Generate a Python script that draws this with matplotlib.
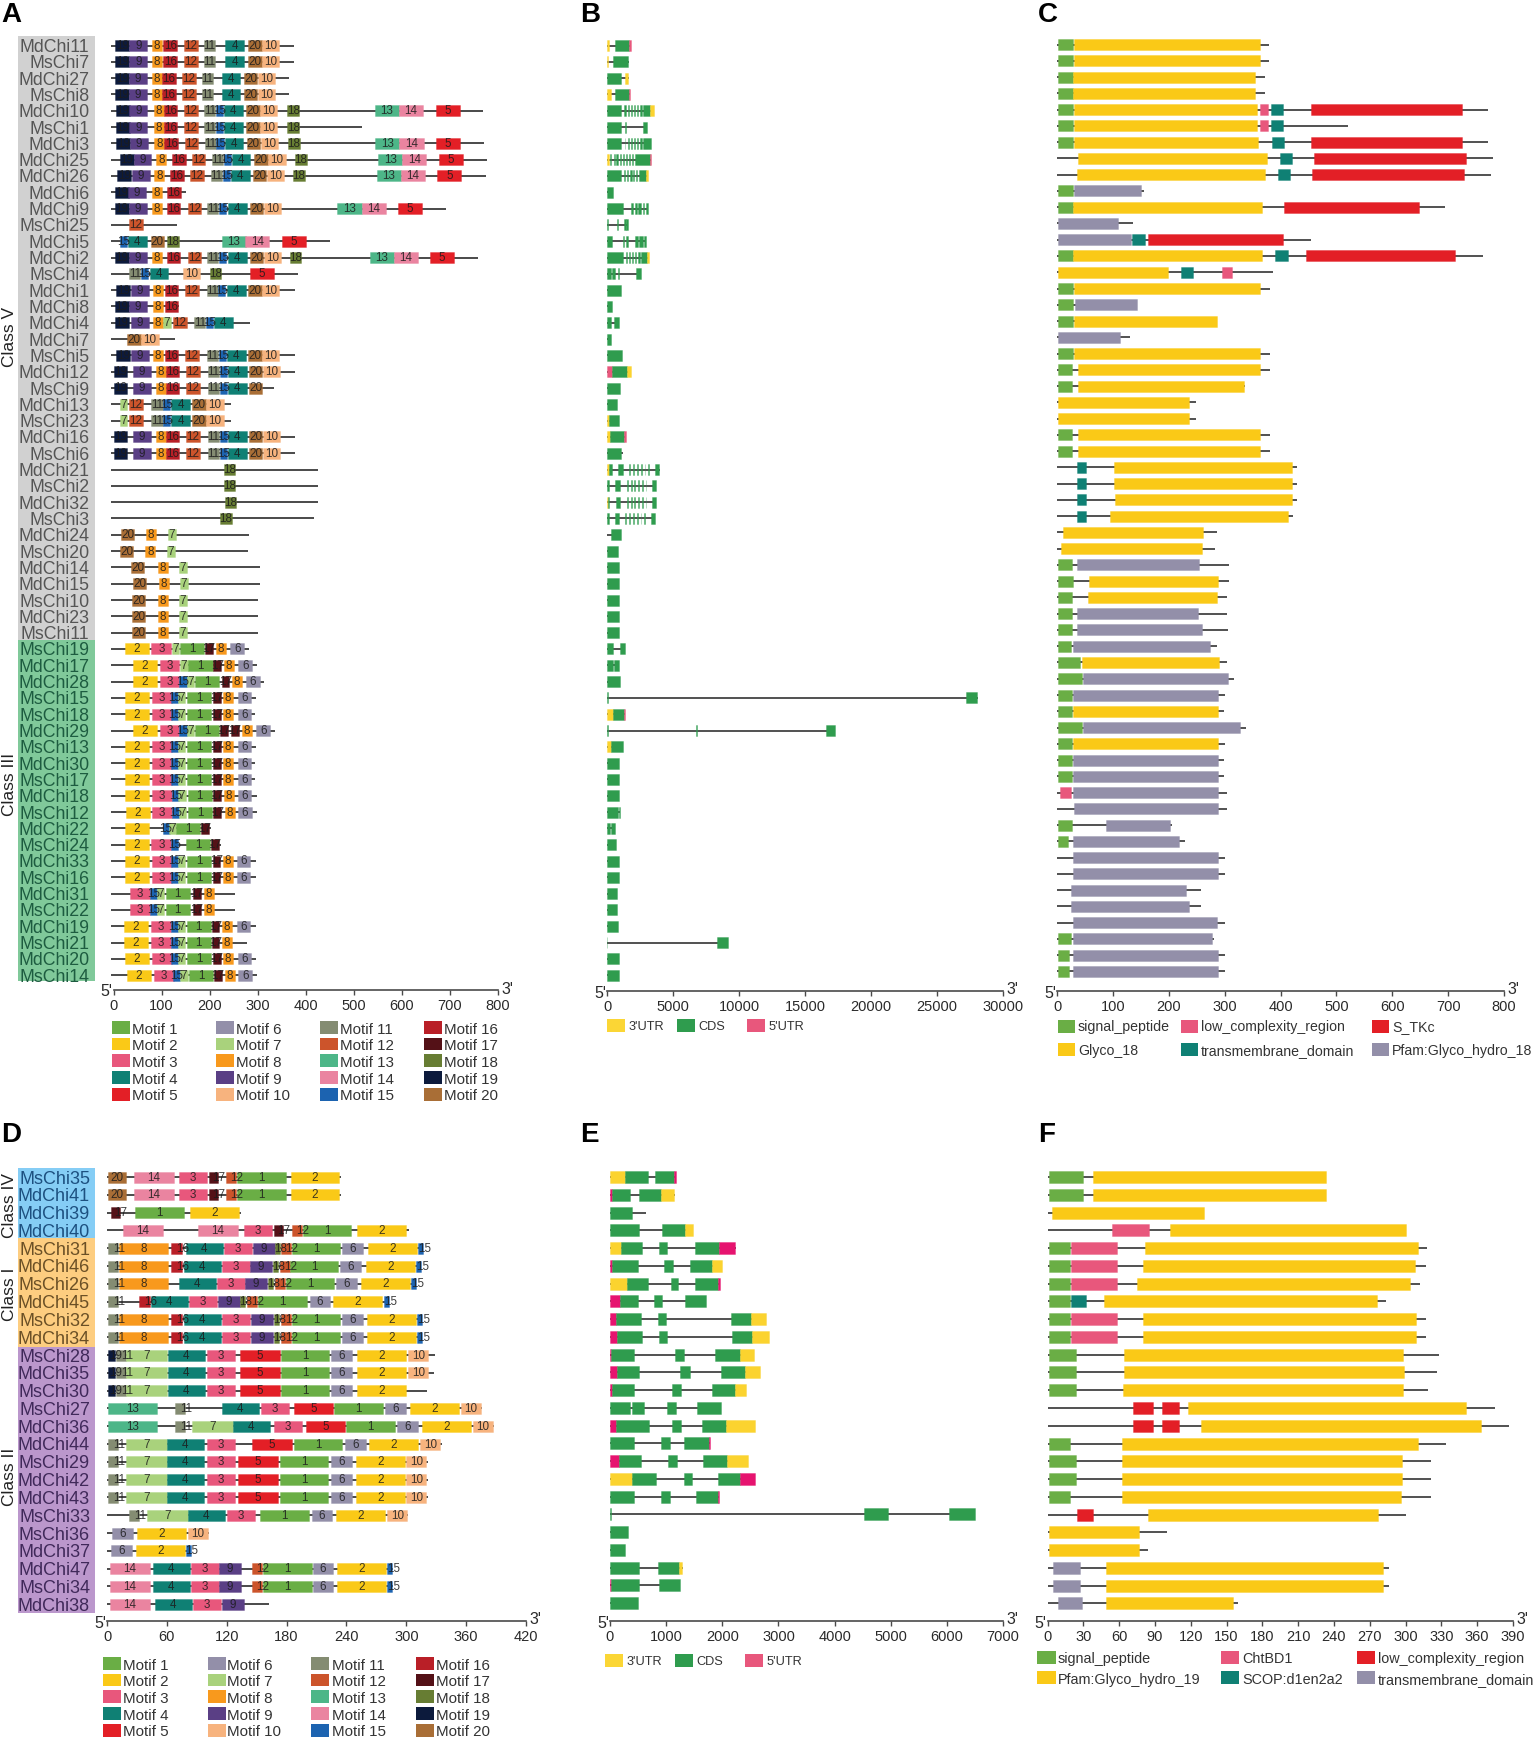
import matplotlib
matplotlib.use("Agg")
import matplotlib.pyplot as plt
from matplotlib.patches import Rectangle
from matplotlib.colors import to_rgba

plt.rcParams["font.family"] = ["Liberation Sans", "DejaVu Sans"]

W, H = 1536, 1737

# ---- panel A / B / C rows ----
genes_a = ["MdChi11", "MsChi7", "MdChi27", "MsChi8", "MdChi10", "MsChi1", "MdChi3", "MdChi25", "MdChi26",
           "MdChi6", "MdChi9", "MsChi25", "MdChi5", "MdChi2", "MsChi4", "MdChi1", "MdChi8", "MdChi4", "MdChi7",
           "MsChi5", "MdChi12", "MsChi9", "MdChi13", "MsChi23", "MdChi16", "MsChi6", "MdChi21", "MsChi2",
           "MdChi32", "MsChi3", "MdChi24", "MsChi20", "MdChi14", "MdChi15", "MsChi10", "MdChi23", "MsChi11",
           "MsChi19", "MdChi17", "MdChi28", "MsChi15", "MsChi18", "MdChi29", "MsChi13", "MdChi30", "MsChi17",
           "MdChi18", "MsChi12", "MdChi22", "MsChi24", "MdChi33", "MsChi16", "MdChi31", "MsChi22", "MdChi19",
           "MsChi21", "MdChi20", "MsChi14"]

# protein length in aa, panel A
ends_a = [375, 375, 366, 366, 769, 517, 770, 777, 774, 150, 692, 132, 450, 759, 383, 378, 137, 283, 127,
          378, 377, 333, 244, 244, 377, 377, 425, 425, 426, 418, 281, 279, 304, 304, 301, 301, 301,
          281, 298, 314, 297, 295, 336, 297, 295, 295, 298, 299, 202, 224, 297, 297, 253, 253, 297, 278, 297, 298]

# (motif, start) per gene, panel A
motifs_a = [
    [(19, 4), (9, 33), (8, 80), (16, 104), (12, 147), (11, 188), (4, 233), (20, 280), (10, 309)],
    [(19, 4), (9, 33), (8, 80), (16, 104), (12, 147), (11, 188), (4, 233), (20, 280), (10, 309)],
    [(19, 4), (9, 32), (8, 80), (16, 101), (12, 143), (11, 184), (4, 225), (20, 271), (10, 300)],
    [(19, 4), (9, 32), (8, 80), (16, 101), (12, 143), (11, 184), (4, 225), (20, 271), (10, 300)],
    [(19, 5), (9, 33), (8, 84), (16, 105), (12, 147), (11, 189), (15, 213), (4, 230), (20, 276), (10, 305), (18, 362), (13, 544), (14, 594), (5, 670)],
    [(19, 5), (9, 33), (8, 84), (16, 105), (12, 147), (11, 189), (15, 213), (4, 230), (20, 276), (10, 305), (18, 362)],
    [(19, 6), (9, 34), (8, 85), (16, 106), (12, 148), (11, 190), (15, 214), (4, 231), (20, 277), (10, 306), (18, 363), (13, 545), (14, 595), (5, 671)],
    [(19, 13), (9, 42), (8, 89), (16, 122), (12, 163), (11, 204), (15, 229), (4, 246), (20, 293), (10, 322), (18, 378), (13, 551), (14, 601), (5, 677)],
    [(19, 8), (9, 38), (8, 85), (16, 118), (12, 160), (11, 202), (15, 227), (4, 244), (20, 290), (10, 319), (18, 374), (13, 548), (14, 598), (5, 674)],
    [(19, 3), (9, 30), (8, 80), (16, 112)],
    [(19, 3), (9, 32), (8, 80), (16, 111), (12, 154), (11, 195), (15, 220), (4, 238), (20, 284), (10, 313), (13, 466), (14, 516), (5, 592)],
    [(12, 33)],
    [(15, 14), (4, 30), (20, 77), (18, 112), (13, 225), (14, 274), (5, 350)],
    [(19, 3), (9, 32), (8, 80), (16, 111), (12, 154), (11, 195), (15, 220), (4, 238), (20, 284), (10, 313), (18, 367), (13, 533), (14, 583), (5, 658)],
    [(11, 33), (15, 57), (4, 75), (10, 145), (18, 200), (5, 283)],
    [(19, 6), (9, 36), (8, 82), (16, 107), (12, 149), (11, 194), (15, 218), (4, 236), (20, 280), (10, 308)],
    [(19, 3), (9, 32), (8, 82), (16, 107)],
    [(19, 3), (9, 36), (8, 82), (7, 104), (12, 124), (11, 168), (15, 192), (4, 209)],
    [(20, 29), (10, 58)],
    [(19, 6), (9, 36), (8, 82), (16, 107), (12, 149), (11, 194), (15, 219), (4, 236), (20, 280), (10, 308)],
    [(19, 0), (9, 40), (8, 88), (16, 109), (12, 151), (11, 197), (15, 221), (4, 238), (20, 282), (10, 311)],
    [(19, 0), (9, 40), (8, 88), (16, 109), (12, 151), (11, 197), (15, 221), (4, 238), (20, 282)],
    [(7, 14), (12, 33), (11, 79), (15, 103), (4, 120), (20, 164), (10, 193)],
    [(7, 14), (12, 33), (11, 79), (15, 103), (4, 120), (20, 164), (10, 193)],
    [(19, 0), (9, 40), (8, 88), (16, 109), (12, 151), (11, 197), (15, 221), (4, 238), (20, 282), (10, 311)],
    [(19, 0), (9, 40), (8, 88), (16, 109), (12, 151), (11, 197), (15, 221), (4, 238), (20, 282), (10, 311)],
    [(18, 229)], [(18, 229)], [(18, 231)], [(18, 222)],
    [(20, 15), (8, 68), (7, 114)],
    [(20, 13), (8, 66), (7, 112)],
    [(20, 36), (8, 93), (7, 137)],
    [(20, 40), (8, 95), (7, 139)],
    [(20, 38), (8, 92), (7, 137)],
    [(20, 38), (8, 92), (7, 137)],
    [(20, 38), (8, 92), (7, 137)],
    [(2, 24), (3, 79), (7, 121), (1, 139), (17, 191), (8, 213), (6, 243)],
    [(2, 40), (3, 96), (7, 139), (1, 156), (17, 208), (8, 229), (6, 260)],
    [(2, 40), (3, 96), (15, 137), (7, 152), (1, 170), (17, 225), (8, 246), (6, 275)],
    [(2, 24), (3, 80), (15, 120), (7, 134), (1, 153), (17, 207), (8, 228), (6, 258)],
    [(2, 24), (3, 80), (15, 120), (7, 134), (1, 153), (17, 207), (8, 228), (6, 258)],
    [(2, 40), (3, 96), (15, 137), (7, 152), (1, 170), (17, 222), (17, 245), (8, 267), (6, 297)],
    [(2, 24), (3, 80), (15, 120), (7, 134), (1, 153), (17, 207), (8, 228), (6, 258)],
    [(2, 24), (3, 80), (15, 120), (7, 134), (1, 153), (17, 207), (8, 228), (6, 258)],
    [(2, 24), (3, 80), (15, 120), (7, 134), (1, 153), (17, 207), (8, 228), (6, 258)],
    [(2, 24), (3, 80), (15, 121), (7, 135), (1, 154), (17, 207), (8, 229), (6, 258)],
    [(2, 25), (3, 81), (15, 122), (7, 136), (1, 155), (17, 208), (8, 231), (6, 259)],
    [(2, 23), (15, 102), (7, 116), (1, 130), (17, 182)],
    [(2, 23), (3, 79), (15, 119), (1, 151), (17, 203)],
    [(2, 24), (3, 80), (15, 120), (7, 134), (1, 153), (17, 206), (8, 227), (6, 256)],
    [(2, 24), (3, 80), (15, 120), (7, 134), (1, 153), (17, 206), (8, 227), (6, 256)],
    [(3, 35), (15, 76), (7, 90), (1, 109), (17, 166), (8, 188)],
    [(3, 35), (15, 76), (7, 90), (1, 109), (17, 166), (8, 188)],
    [(2, 22), (3, 78), (15, 119), (7, 134), (1, 152), (17, 204), (8, 226), (6, 256)],
    [(2, 22), (3, 78), (15, 119), (7, 134), (1, 152), (17, 204), (8, 226)],
    [(2, 24), (3, 80), (15, 120), (7, 134), (1, 153), (17, 207), (8, 228), (6, 258)],
    [(2, 28), (3, 84), (15, 124), (7, 139), (1, 157), (17, 209), (8, 231), (6, 260)],
]
# motif widths in aa
widths_a = {1: 50, 2: 50, 3: 41, 4: 39, 5: 50, 6: 29, 7: 15, 8: 21, 9: 37, 10: 36,
            11: 23, 12: 28, 13: 50, 14: 50, 15: 15, 16: 28, 17: 16, 18: 24, 19: 29, 20: 28}

# ---- panel B: gene structure, bp ----
ends_b = [1800, 1650, 1650, 1780, 3550, 3050, 3310, 3320, 3080, 430, 3080, 1560, 2980, 3170, 2550, 1090, 380, 900,
          330, 1130, 1850, 1000, 720, 920, 1470, 1180, 4000, 3690, 3700, 3600, 1090, 850, 900, 900, 900, 900, 900,
          1370, 900, 950, 28100, 1370, 17260, 1220, 900, 900, 900, 1000, 620, 660, 900, 900, 770, 770, 850, 9200, 900, 900]
segs_b = [
    [("U", 0, 150), ("C", 570, 1700), ("P", 1700, 1800)],
    [("U", 0, 100), ("C", 470, 1610)],
    [("C", 0, 1090), ("U", 1370, 1610)],
    [("U", 0, 280), ("C", 610, 1700), ("P", 1700, 1780)],
    [("C", 0, 1090), ("C", 1300, 1420), ("C", 1560, 1660), ("C", 1800, 1900), ("C", 2030, 2130), ("C", 2270, 2370), ("C", 2510, 2650), ("C", 2750, 3260), ("U", 3260, 3550)],
    [("C", 0, 1090), ("C", 1330, 1470), ("C", 2700, 3030)],
    [("C", 0, 1090), ("C", 1330, 1400), ("C", 1560, 1660), ("C", 1800, 1900), ("C", 2030, 2130), ("C", 2270, 2370), ("C", 2510, 2650), ("C", 2750, 3310)],
    [("U", 0, 170), ("C", 190, 330), ("C", 520, 620), ("C", 710, 810), ("C", 950, 1050), ("C", 1180, 1280), ("C", 1420, 1520), ("C", 1660, 1760), ("C", 1890, 1990), ("C", 2130, 3260), ("P", 3260, 3320)],
    [("C", 0, 1090), ("C", 1300, 1400), ("C", 1520, 1620), ("C", 1760, 1860), ("C", 1950, 2050), ("C", 2180, 2280), ("C", 2420, 2930), ("U", 2930, 3080)],
    [("C", 0, 430)],
    [("C", 0, 1180), ("C", 1840, 1990), ("C", 2130, 2270), ("C", 2370, 2550), ("C", 2700, 2790), ("C", 2930, 3080)],
    [("C", 0, 100), ("C", 760, 850), ("C", 1320, 1420), ("C", 1470, 1560)],
    [("C", 0, 380), ("C", 1230, 1320), ("C", 1420, 1610), ("C", 2130, 2370), ("C", 2460, 2700), ("C", 2790, 2980)],
    [("C", 0, 1180), ("C", 1420, 1520), ("C", 1660, 1760), ("C", 1890, 1990), ("C", 2130, 2230), ("C", 2370, 2470), ("C", 2600, 3030), ("U", 3030, 3170)],
    [("C", 0, 280), ("C", 380, 570), ("C", 800, 900), ("C", 2220, 2550)],
    [("C", 0, 1090)],
    [("C", 0, 380)],
    [("C", 0, 330), ("C", 520, 900)],
    [("C", 0, 330)],
    [("C", 0, 1130)],
    [("P", 0, 400), ("C", 400, 1510), ("U", 1510, 1850)],
    [("C", 0, 1000)],
    [("C", 0, 720)],
    [("U", 0, 130), ("C", 130, 920)],
    [("U", 0, 190), ("C", 190, 1320), ("P", 1320, 1470)],
    [("C", 0, 1090)],
    [("U", 0, 150), ("C", 150, 350), ("C", 800, 1180), ("C", 1700, 1760), ("C", 2000, 2060), ("C", 2280, 2340), ("C", 2560, 2620), ("C", 2850, 2910), ("C", 3130, 3190), ("C", 3640, 3970)],
    [("C", 0, 120), ("C", 620, 950), ("C", 1500, 1560), ("C", 1800, 1860), ("C", 2080, 2140), ("C", 2370, 2430), ("C", 2650, 2710), ("C", 2930, 2990), ("C", 3400, 3690)],
    [("U", 0, 80), ("C", 80, 150), ("C", 700, 1000), ("C", 1500, 1560), ("C", 1800, 1860), ("C", 2080, 2140), ("C", 2370, 2430), ("C", 2650, 2710), ("C", 2930, 2990), ("C", 3400, 3700)],
    [("C", 0, 120), ("C", 620, 900), ("C", 1400, 1460), ("C", 1700, 1760), ("C", 1980, 2040), ("C", 2270, 2330), ("C", 2550, 2610), ("C", 2830, 2890), ("C", 3300, 3600)],
    [("C", 280, 1090)],
    [("C", 0, 850)],
    [("C", 0, 900)], [("C", 0, 900)], [("C", 0, 900)], [("C", 0, 900)], [("C", 0, 900)],
    [("C", 0, 430), ("C", 1000, 1370)],
    [("C", 0, 430), ("C", 500, 900)],
    [("C", 0, 950)],
    [("C", 0, 40), ("C", 27200, 28050)],
    [("U", 0, 470), ("C", 470, 1320), ("P", 1320, 1370)],
    [("C", 0, 100), ("C", 6780, 6830), ("C", 16560, 17260)],
    [("U", 0, 330), ("C", 330, 1220)],
    [("C", 0, 900)], [("C", 0, 900)], [("C", 0, 900)],
    [("C", 0, 860), ("C", 920, 1000)],
    [("C", 0, 240), ("C", 330, 620)],
    [("C", 0, 660)],
    [("C", 0, 900)], [("C", 0, 900)],
    [("C", 0, 770)], [("C", 0, 770)],
    [("C", 0, 850)],
    [("C", 0, 30), ("C", 8330, 9130)],
    [("C", 0, 900)], [("C", 0, 900)],
]

# ---- panel C: protein domains, aa ----
ends_c = [380, 380, 372, 372, 771, 520, 771, 780, 777, 155, 694, 136, 454, 762, 386, 381, 143, 287, 131, 381, 381, 336,
          248, 248, 381, 381, 429, 429, 430, 422, 286, 283, 308, 308, 305, 305, 306, 286, 304, 317, 300, 299, 339,
          301, 299, 299, 304, 304, 206, 229, 300, 300, 257, 257, 300, 281, 301, 301]
segs_c = [
    [("sp", 1, 28), ("gly", 30, 363)], [("sp", 1, 28), ("gly", 30, 363)],
    [("sp", 1, 28), ("gly", 29, 355)], [("sp", 1, 28), ("gly", 29, 355)],
    [("sp", 1, 28), ("gly", 30, 358), ("lc", 364, 378), ("tm", 383, 405), ("tk", 454, 724)],
    [("sp", 1, 28), ("gly", 30, 358), ("lc", 364, 378), ("tm", 383, 405)],
    [("sp", 1, 28), ("gly", 30, 359), ("tm", 384, 406), ("tk", 454, 725)],
    [("gly", 38, 375), ("tm", 399, 421), ("tk", 460, 732)],
    [("gly", 35, 373), ("tm", 395, 417), ("tk", 456, 729)],
    [("sp", 1, 28), ("pf", 30, 151)],
    [("sp", 1, 28), ("gly", 29, 367), ("tk", 407, 647)],
    [("pf", 2, 109)],
    [("pf", 2, 132), ("tm", 135, 157), ("tk", 162, 405)],
    [("sp", 1, 28), ("gly", 29, 367), ("tm", 391, 413), ("tk", 446, 713)],
    [("gly", 2, 199), ("tm", 222, 244), ("lc", 295, 313)],
    [("sp", 1, 28), ("gly", 31, 363)],
    [("sp", 1, 28), ("pf", 32, 143)],
    [("sp", 1, 28), ("gly", 31, 287)],
    [("pf", 2, 112)],
    [("sp", 1, 28), ("gly", 31, 363)],
    [("sp", 1, 27), ("gly", 37, 364)],
    [("sp", 1, 27), ("gly", 37, 334)],
    [("gly", 2, 237)], [("gly", 2, 237)],
    [("sp", 1, 27), ("gly", 37, 364)], [("sp", 1, 27), ("gly", 37, 364)],
    [("tm", 35, 52), ("gly", 102, 420)], [("tm", 35, 52), ("gly", 102, 420)],
    [("tm", 36, 52), ("gly", 103, 421)], [("tm", 36, 52), ("gly", 95, 413)],
    [("gly", 10, 261)], [("gly", 8, 259)],
    [("sp", 1, 26), ("pf", 36, 254)],
    [("sp", 1, 29), ("gly", 57, 289)],
    [("sp", 1, 26), ("gly", 55, 287)],
    [("sp", 1, 26), ("pf", 36, 252)],
    [("sp", 1, 26), ("pf", 35, 260)],
    [("sp", 1, 25), ("pf", 29, 273)],
    [("sp", 1, 41), ("gly", 45, 290)],
    [("sp", 1, 44), ("pf", 46, 306)],
    [("sp", 1, 27), ("pf", 29, 289)],
    [("sp", 1, 27), ("gly", 29, 288)],
    [("sp", 1, 44), ("pf", 46, 327)],
    [("sp", 1, 27), ("gly", 28, 288)],
    [("sp", 1, 27), ("pf", 29, 288)],
    [("sp", 1, 27), ("pf", 29, 288)],
    [("lc", 6, 25), ("pf", 29, 289)],
    [("pf", 30, 289)],
    [("sp", 1, 26), ("pf", 88, 202)],
    [("sp", 1, 19), ("pf", 28, 219)],
    [("pf", 29, 289)], [("pf", 29, 289)],
    [("pf", 25, 230)], [("pf", 25, 237)],
    [("pf", 28, 287)],
    [("sp", 1, 25), ("pf", 28, 278)],
    [("sp", 1, 21), ("pf", 29, 288)], [("sp", 1, 21), ("pf", 29, 288)],
]

# ---- panel D / E / F rows ----
genes_d = ["MsChi35", "MdChi41", "MdChi39", "MdChi40", "MsChi31", "MdChi46", "MsChi26", "MdChi45", "MsChi32", "MdChi34",
           "MsChi28", "MdChi35", "MsChi30", "MsChi27", "MdChi36", "MdChi44", "MsChi29", "MdChi42", "MdChi43", "MsChi33",
           "MsChi36", "MdChi37", "MdChi47", "MsChi34", "MdChi38"]
ends_d = [235, 235, 134, 303, 317, 315, 310, 283, 316, 316, 329, 328, 321, 376, 388, 336, 322, 322, 322, 302, 102, 84, 287, 287, 162]
motifs_d = [
    [(20, 1), (14, 27), (3, 72), (17, 102), (12, 119), (1, 130), (2, 184)],
    [(20, 1), (14, 27), (3, 72), (17, 102), (12, 119), (1, 130), (2, 184)],
    [(17, 4), (1, 28), (2, 83)],
    [(14, 16), (14, 91), (3, 137), (17, 167), (12, 185), (1, 196), (2, 251)],
    [(11, 1), (8, 12), (16, 64), (4, 79), (3, 117), (9, 146), (18, 168), (12, 174), (1, 185), (6, 236), (2, 262), (15, 312)],
    [(11, 1), (8, 12), (16, 64), (4, 77), (3, 115), (9, 143), (18, 166), (12, 173), (1, 183), (6, 234), (2, 260), (15, 310)],
    [(11, 1), (8, 12), (4, 72), (3, 110), (9, 138), (18, 161), (12, 168), (1, 179), (6, 230), (2, 255), (15, 305)],
    [(11, 1), (16, 32), (4, 44), (3, 82), (9, 111), (18, 133), (12, 140), (1, 151), (6, 203), (2, 227), (15, 278)],
    [(11, 1), (8, 12), (16, 64), (4, 77), (3, 115), (9, 144), (18, 167), (12, 174), (1, 185), (6, 236), (2, 261), (15, 311)],
    [(11, 1), (8, 12), (16, 64), (4, 77), (3, 115), (9, 144), (18, 167), (12, 174), (1, 185), (6, 236), (2, 261), (15, 311)],
    [(19, 1), (11, 9), (7, 19), (4, 61), (3, 100), (5, 133), (1, 174), (6, 225), (2, 251), (10, 302)],
    [(19, 1), (11, 9), (7, 19), (4, 61), (3, 100), (5, 133), (1, 174), (6, 225), (2, 251), (10, 302)],
    [(19, 1), (11, 9), (7, 19), (4, 61), (3, 100), (5, 133), (1, 174), (6, 225), (2, 251)],
    [(13, 1), (11, 68), (4, 115), (3, 154), (5, 187), (1, 228), (6, 279), (2, 304), (10, 355)],
    [(13, 1), (11, 68), (7, 85), (4, 126), (3, 167), (5, 199), (1, 240), (6, 291), (2, 316), (10, 367)],
    [(11, 1), (7, 19), (4, 60), (3, 100), (5, 145), (1, 187), (6, 239), (2, 263), (10, 314)],
    [(11, 1), (7, 19), (4, 60), (3, 100), (5, 131), (1, 173), (6, 225), (2, 250), (10, 300)],
    [(11, 1), (7, 19), (4, 60), (3, 100), (5, 131), (1, 173), (6, 225), (2, 250), (10, 300)],
    [(11, 1), (7, 19), (4, 60), (3, 100), (5, 131), (1, 173), (6, 225), (2, 250), (10, 300)],
    [(11, 22), (7, 40), (4, 81), (3, 120), (1, 153), (6, 205), (2, 230), (10, 281)],
    [(6, 5), (2, 30), (10, 81)],
    [(6, 4), (2, 29), (15, 79)],
    [(14, 3), (4, 46), (3, 84), (9, 112), (12, 145), (1, 156), (6, 206), (2, 231), (15, 281)],
    [(14, 3), (4, 46), (3, 84), (9, 112), (12, 145), (1, 156), (6, 206), (2, 231), (15, 281)],
    [(14, 3), (4, 48), (3, 86), (9, 115)],
]
widths_d = {1: 49, 2: 49, 3: 28, 4: 37, 5: 40, 6: 21, 7: 41, 8: 49, 9: 22, 10: 20,
            11: 10, 12: 10, 13: 49, 14: 40, 15: 5, 16: 11, 17: 9, 18: 5, 19: 7, 20: 18}

ends_e = [1170, 1160, 650, 1480, 2240, 1990, 1960, 1710, 2785, 2840, 2565, 2665, 2430, 1985, 2575, 1775, 2465, 2585, 1950, 6495, 320, 265, 1300, 1245, 500]
segs_e = [
    [("U", 0, 270), ("C", 270, 670), ("C", 810, 1140), ("M", 1140, 1170)],
    [("M", 0, 40), ("C", 40, 360), ("C", 520, 910), ("U", 910, 1140)],
    [("C", 0, 390)],
    [("C", 0, 510), ("C", 930, 1340), ("U", 1340, 1480)],
    [("U", 0, 200), ("C", 200, 570), ("C", 870, 1020), ("C", 1510, 1940), ("M", 1940, 2230)],
    [("M", 0, 40), ("C", 40, 490), ("C", 970, 1120), ("C", 1430, 1810), ("U", 1810, 1990)],
    [("U", 0, 310), ("C", 310, 680), ("C", 1080, 1220), ("C", 1510, 1920), ("M", 1920, 1960)],
    [("M", 0, 170), ("C", 170, 500), ("C", 780, 930), ("C", 1340, 1710)],
    [("M", 0, 110), ("C", 110, 555), ("C", 855, 1000), ("C", 2155, 2520), ("U", 2520, 2785)],
    [("M", 0, 130), ("C", 130, 570), ("C", 870, 1020), ("C", 2165, 2530), ("U", 2530, 2840)],
    [("M", 0, 20), ("C", 20, 420), ("C", 1165, 1320), ("C", 1875, 2310), ("U", 2310, 2565)],
    [("M", 0, 120), ("C", 120, 520), ("C", 1255, 1420), ("C", 1975, 2410), ("U", 2410, 2665)],
    [("M", 0, 30), ("C", 30, 430), ("C", 1110, 1265), ("C", 1810, 2220), ("U", 2220, 2430)],
    [("C", 0, 355), ("C", 400, 610), ("C", 1020, 1175), ("C", 1555, 1985)],
    [("M", 0, 100), ("C", 100, 700), ("C", 1110, 1265), ("C", 1645, 2065), ("U", 2065, 2575)],
    [("C", 0, 430), ("C", 910, 1065), ("C", 1310, 1755), ("M", 1755, 1775)],
    [("M", 0, 165), ("C", 165, 555), ("C", 1030, 1190), ("C", 1665, 2085), ("U", 2085, 2465)],
    [("U", 0, 400), ("C", 400, 820), ("C", 1310, 1465), ("C", 1930, 2320), ("M", 2320, 2585)],
    [("C", 0, 430), ("C", 910, 1065), ("C", 1530, 1920), ("M", 1920, 1950)],
    [("C", 0, 20), ("C", 4530, 4960), ("C", 6040, 6495)],
    [("C", 0, 320)],
    [("C", 0, 265)],
    [("C", 0, 510), ("C", 855, 1230), ("U", 1230, 1290)],
    [("M", 0, 20), ("C", 20, 520), ("C", 875, 1245)],
    [("C", 0, 500)],
]

ends_f = [233, 233, 131, 300, 318, 317, 312, 284, 317, 317, 328, 326, 319, 375, 387, 334, 321, 321, 321, 300, 100, 84, 286, 286, 160]
segs_f = [
    [("sp", 1, 30), ("gly", 38, 233)], [("sp", 1, 30), ("gly", 38, 233)],
    [("gly", 4, 131)],
    [("lc", 54, 85), ("gly", 103, 300)],
    [("sp", 1, 19), ("lc", 20, 58), ("gly", 82, 310)],
    [("sp", 1, 19), ("lc", 20, 58), ("gly", 80, 308)],
    [("sp", 1, 19), ("lc", 20, 58), ("gly", 75, 304)],
    [("sp", 1, 19), ("tm", 20, 32), ("gly", 47, 276)],
    [("sp", 1, 19), ("lc", 20, 58), ("gly", 80, 309)],
    [("sp", 1, 19), ("lc", 20, 58), ("gly", 80, 309)],
    [("sp", 1, 24), ("gly", 64, 298)],
    [("sp", 1, 24), ("gly", 64, 299)],
    [("sp", 1, 24), ("gly", 63, 298)],
    [("tk", 72, 88), ("tk", 96, 110), ("gly", 118, 351)],
    [("tk", 72, 88), ("tk", 96, 110), ("gly", 129, 363)],
    [("sp", 1, 19), ("gly", 62, 310)],
    [("sp", 1, 24), ("gly", 62, 297)],
    [("sp", 1, 24), ("gly", 62, 297)],
    [("sp", 1, 19), ("gly", 62, 296)],
    [("tk", 25, 38), ("gly", 84, 277)],
    [("gly", 1, 77)],
    [("gly", 1, 77)],
    [("pf", 5, 27), ("gly", 49, 281)],
    [("pf", 5, 27), ("gly", 49, 281)],
    [("pf", 9, 29), ("gly", 49, 155)],
]

ticks_a = [0, 100, 200, 300, 400, 500, 600, 700, 800]
ticks_b = [0, 5000, 10000, 15000, 20000, 25000, 30000]
ticks_d = [0, 60, 120, 180, 240, 300, 360, 420]
ticks_e = [0, 1000, 2000, 3000, 4000, 5000, 6000, 7000]
ticks_f = list(range(0, 391, 30))

# ---- colours ----
motif_colors = {1: "#6aae45", 2: "#fac917", 3: "#e8577c", 4: "#0f8074", 5: "#e31f26", 6: "#938fa9", 7: "#a9d27c",
                8: "#f8991d", 9: "#5a3f85", 10: "#f7b37e", 11: "#848c72", 12: "#cc542b", 13: "#4db688", 14: "#ea84a0",
                15: "#1c63b0", 16: "#b91f27", 17: "#541117", 18: "#677d33", 19: "#0c1a3c", 20: "#a96e36"}
seg_colors = {"U": "#fbd32f", "C": "#2f9c4e", "P": "#e8577c", "M": "#e6136f",
              "sp": "#6aae45", "gly": "#fac917", "lc": "#e8577c", "tk": "#e31f26",
              "tm": "#0f8074", "pf": "#938fa9"}


def px_rect(x, y, w, h, color, zorder=-1):
    fig.add_artist(Rectangle((x / W, 1 - (y + h) / H), w / W, h / H, transform=fig.transFigure,
                             facecolor=color, edgecolor="none", zorder=zorder))


def px_text(x, y, s, **kw):
    kw.setdefault("va", "center")
    kw.setdefault("color", "#2a2a2a")
    fig.text(x / W, 1 - y / H, s, **kw)


def panel(x0, x1, y_first, y_axis, spacing, xmax, ticks, labels=None, label_pad=0, label_size=11.7, label_colors=None):
    top = y_first - spacing / 2
    ax = fig.add_axes([x0 / W, 1 - y_axis / H, (x1 - x0) / W, (y_axis - top) / H], facecolor="none")
    ax.set_xlim(0, xmax)
    ax.set_ylim((y_axis - y_first) / spacing, -0.5)
    for name in ("top", "left", "right"):
        ax.spines[name].set_visible(False)
    ax.spines["bottom"].set_color("#4a4a4a")
    ax.spines["bottom"].set_linewidth(1.2)
    ax.set_xticks(ticks)
    ax.tick_params(axis="x", length=3.5, width=1, color="#4a4a4a", labelsize=10.5, labelcolor="#2a2a2a", pad=3)
    if labels:
        ax.set_yticks(range(len(labels)), labels)
        ax.tick_params(axis="y", length=0, pad=label_pad, labelsize=label_size)
        for tick, c in zip(ax.get_yticklabels(), label_colors):
            tick.set_color(c)
    else:
        ax.set_yticks([])
    px_text(x0 - 7, y_axis + 2, "5'", ha="center", fontsize=11.5)
    px_text(x1 + 9, y_axis - 1, "3'", ha="center", fontsize=11.5)
    return ax


def draw_box(ax, row, start, end, color, height):
    ax.barh(row, end - start, left=start, height=height, color=color,
            edgecolor=to_rgba(color, 0.35), linewidth=0.7, zorder=3, clip_on=False)


def draw_motifs(ax, rows, widths, ends, spacing, line_start):
    h = 11 / spacing
    for i, (row, end) in enumerate(zip(rows, ends)):
        ax.plot([line_start, end], [i, i], color="#222222", lw=1.15, zorder=2, clip_on=False, solid_capstyle="butt")
        for m, s in row:
            w = widths[m]
            draw_box(ax, i, s, s + w, motif_colors[m], h)
            # narrow boxes carry their number pushed to the right, as in the figure
            cx = s + w / 2 if w >= 12 or ax.get_xlim()[1] > 500 else s + w + 1
            ax.text(cx, i + 0.03, str(m), ha="center", va="center", fontsize=8.4, color="#1c1c1c", alpha=0.85,
                    zorder=4, clip_on=False)


def draw_segs(ax, rows, ends, spacing, height=11.0):
    h = height / spacing
    for i, (row, end) in enumerate(zip(rows, ends)):
        ax.plot([0, end], [i, i], color="#222222", lw=1.1, zorder=2, clip_on=False, solid_capstyle="butt")
        for kind, s, e in row:
            draw_box(ax, i, s, e, seg_colors[kind], h)


def motif_legend(xs, xt, y_top):
    n = 1
    for col in range(4):
        for r in range(5):
            y = y_top + r * 16.7
            px_rect(xs[col], y, 18, 12.7, motif_colors[n], zorder=2)
            px_text(xt[col], y + 8.5, "Motif %d" % n, fontsize=10.9, color="#333333")
            n += 1


def seg_legend(items, size=10.4):
    for x, y, w, h, color, tx, ty, label in items:
        px_rect(x, y, w, h, color, zorder=2)
        px_text(tx, ty, label, fontsize=size, color="#333333")


fig = plt.figure(figsize=(W / 100, H / 100), dpi=100, facecolor="white")

# colour strips behind the gene names
px_rect(18, 36, 77, 604, "#d1d1d1")
px_rect(18, 640, 77, 341, "#80c99a")
px_rect(18, 1168, 77, 70, "#85cdf5")
px_rect(18, 1238, 77, 109, "#fdcd80")
px_rect(18, 1347, 77, 266, "#bb97cc")

colors_a = ["#555555"] * 37 + ["#1d5c40"] * 21
colors_d = ["#1d5080"] * 4 + ["#6b5026"] * 6 + ["#40295a"] * 15

ax_a = panel(113.5, 498, 45.5, 990, 16.31, 800, ticks_a, genes_a, 17.3, 12.8, colors_a)
draw_motifs(ax_a, motifs_a, widths_a, ends_a, 16.31, -5)

ax_b = panel(607, 1003, 45.5, 991, 16.31, 30000, ticks_b)
draw_segs(ax_b, segs_b, ends_b, 16.31)

ax_c = panel(1057, 1504, 44.6, 991, 16.26, 800, ticks_a)
draw_segs(ax_c, segs_c, ends_c, 16.26)

ax_d = panel(107, 526, 1177, 1621, 17.8, 420, ticks_d, genes_d, 12.2, 13, colors_d)
draw_motifs(ax_d, motifs_d, widths_d, ends_d, 17.8, 0)

ax_e = panel(610, 1003, 1177, 1621, 17.75, 7000, ticks_e)
draw_segs(ax_e, segs_e, ends_e, 17.75, 12)

ax_f = panel(1047.5, 1513, 1177, 1621, 17.77, 390, ticks_f)
draw_segs(ax_f, segs_f, ends_f, 17.77, 12)

# legends
motif_legend([112, 216, 320, 424], [131.7, 236, 340, 444], 1021)
motif_legend([103, 207.5, 311, 416], [123, 227, 332, 436], 1657)

seg_legend([
    (607, 1019, 18, 13, "#fbd635", 629, 1027, "3'UTR"),
    (677, 1019, 18, 13, "#2f9c4e", 698, 1027, "CDS"),
    (747, 1019, 18, 13, "#e8577c", 769, 1027, "5'UTR"),
], 9.2)
seg_legend([
    (1058, 1020, 17, 13, "#6aae45", 1078, 1027.5, "signal_peptide"),
    (1181, 1020, 17, 13, "#e8577c", 1201, 1027.5, "low_complexity_region"),
    (1372, 1020, 17, 13, "#e31f26", 1392, 1027.5, "S_TKc"),
    (1058, 1043, 17, 13, "#fac917", 1078, 1051, "Glyco_18"),
    (1181, 1043, 17, 13, "#0f8074", 1201, 1051, "transmembrane_domain"),
    (1372, 1043, 17, 13, "#938fa9", 1392, 1051, "Pfam:Glyco_hydro_18"),
], 10.2)
seg_legend([
    (605, 1654, 18, 13, "#fbd635", 627, 1662, "3'UTR"),
    (675, 1654, 18, 13, "#2f9c4e", 696, 1662, "CDS"),
    (745, 1654, 18, 13, "#e8577c", 767, 1662, "5'UTR"),
], 9.2)
seg_legend([
    (1037, 1651, 19, 13, "#6aae45", 1058, 1659, "signal_peptide"),
    (1221, 1651, 18, 13, "#e8577c", 1242, 1659, "ChtBD1"),
    (1357, 1651, 18, 13, "#e31f26", 1378, 1659, "low_complexity_region"),
    (1037, 1671, 19, 13, "#fac917", 1058, 1680, "Pfam:Glyco_hydro_19"),
    (1221, 1671, 18, 13, "#0f8074", 1242, 1680, "SCOP:d1en2a2"),
    (1357, 1671, 18, 13, "#938fa9", 1378, 1680, "transmembrane_domain"),
])

# class names, rotated along the strips
for label, y in [("Class V", 337), ("Class III", 784), ("Class IV", 1205), ("Class I", 1294), ("Class II", 1477)]:
    px_text(10, y, label, rotation=90, ha="center", fontsize=12.5, color="#222222")

# panel letters
for label, x, y in [("A", 1, 15), ("B", 580, 15), ("C", 1038, 15), ("D", 1, 1135), ("E", 580, 1135), ("F", 1038, 1135)]:
    px_text(x, y, label, fontsize=20, fontweight="bold", color="black")

fig.savefig("out.png", dpi=100)
